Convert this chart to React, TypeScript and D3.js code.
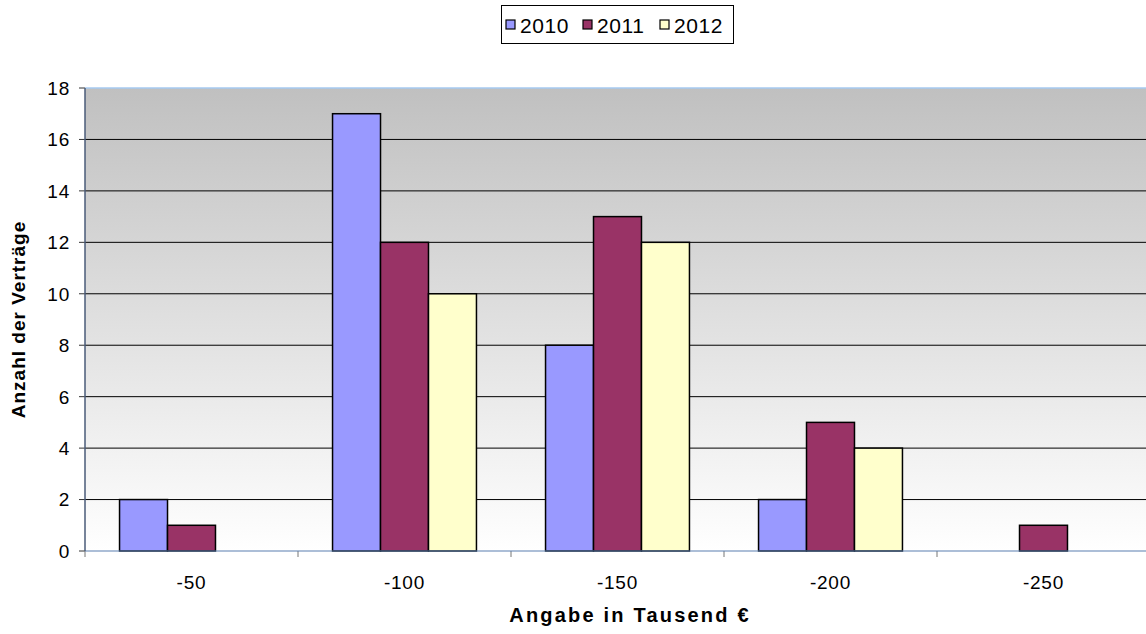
import * as d3 from 'd3';

const categories = ['-50', '-100', '-150', '-200', '-250'];
const seriesNames = ['2010', '2011', '2012'];
const values2010 = [2, 17, 8, 2, 0];
const values2011 = [1, 12, 13, 5, 1];
const values2012 = [0, 10, 12, 4, 0];
const yTicks = [0, 2, 4, 6, 8, 10, 12, 14, 16, 18];
const colors = ['#9999ff', '#993366', '#ffffcc'];

const W = 1146;
const H = 634;
const left = 85;
const right = 1150;
const top = 88;
const bottom = 551;
const font = 'Liberation Sans, Arial, sans-serif';

export default function App() {
  const series = [values2010, values2011, values2012];
  const x = d3.scaleBand().domain(categories).range([left, right]).paddingInner(0).paddingOuter(0);
  const xInner = d3.scaleBand().domain(seriesNames).range([0, x.bandwidth()]).paddingInner(0).paddingOuter(0.72);
  const y = d3.scaleLinear().domain([0, 18]).range([bottom, top]);

  return (
    <svg width={W} height={H} style={{ position: 'absolute', left: 0, top: 0 }} fontFamily={font}>
      <defs>
        <linearGradient id="bg" x1="0" y1="0" x2="0" y2="1">
          <stop offset="0" stopColor="#c0c0c0" />
          <stop offset="1" stopColor="#ffffff" />
        </linearGradient>
      </defs>
      <rect x={0} y={0} width={W} height={H} fill="#fff" />
      <rect x={left} y={top} width={right - left} height={bottom - top} fill="url(#bg)" />
      {yTicks.filter(t => t > 0 && t < 18).map(t => (
        <line key={t} x1={left} x2={right} y1={y(t)} y2={y(t)} stroke="#000" strokeWidth={1} />
      ))}
      <line x1={left} x2={right} y1={top} y2={top} stroke="#a6caf0" strokeWidth={1.5} />
      {yTicks.map(t => (
        <g key={t}>
          <line x1={left - 6} x2={left} y1={y(t)} y2={y(t)} stroke="#333" />
          <text x={70} y={y(t)} dy="0.36em" textAnchor="end" fontSize={19} letterSpacing={0.8} fill="#000">{t}</text>
        </g>
      ))}
      {categories.map((c, i) => (
        <g key={c}>
          {series.map((s, j) => {
            const v = s[i];
            if (!v) return null;
            const bx = (x(c) as number) + (xInner(seriesNames[j]) as number);
            return (
              <rect key={j} x={bx} y={y(v)} width={xInner.bandwidth()} height={y(0) - y(v)}
                fill={colors[j]} stroke="#000" strokeWidth={1.5} />
            );
          })}
          <text x={(x(c) as number) + x.bandwidth() / 2} y={582} dy="0.36em" textAnchor="middle" fontSize={19} letterSpacing={0.8} fill="#000">{c}</text>
        </g>
      ))}
      {categories.map((c, i) => (
        <line key={'t' + i} x1={x(c) as number} x2={x(c) as number} y1={bottom} y2={bottom + 6} stroke="#777" />
      ))}
      <line x1={left} x2={right} y1={bottom} y2={bottom} stroke="#5b7fb0" strokeWidth={1.2} />
      <line x1={left} x2={left} y1={top} y2={bottom} stroke="#4a5b78" strokeWidth={1.5} />
      <text transform={`translate(18,${(top + bottom) / 2}) rotate(-90)`} dy="0.36em" textAnchor="middle" fontSize={19} fontWeight="bold" fill="#000" letterSpacing={1}>Anzahl der Verträge</text>
      <text x={630} y={615} dy="0.36em" textAnchor="middle" fontSize={20} fontWeight="bold" fill="#000" letterSpacing={2.2}>Angabe in Tausend €</text>
      <g>
        <rect x={501.5} y={5.5} width={232} height={38} fill="#fff" stroke="#000" strokeWidth={1} />
        {seriesNames.map((n, j) => (
          <g key={n} transform={`translate(${506 + j * 77},0)`}>
            <rect x={0} y={20} width={9} height={9} fill={colors[j]} stroke="#000" strokeWidth={1.2} />
            <text x={14} y={25} dy="0.36em" fontSize={21} letterSpacing={0.6} fill="#000">{n}</text>
          </g>
        ))}
      </g>
    </svg>
  );
}
